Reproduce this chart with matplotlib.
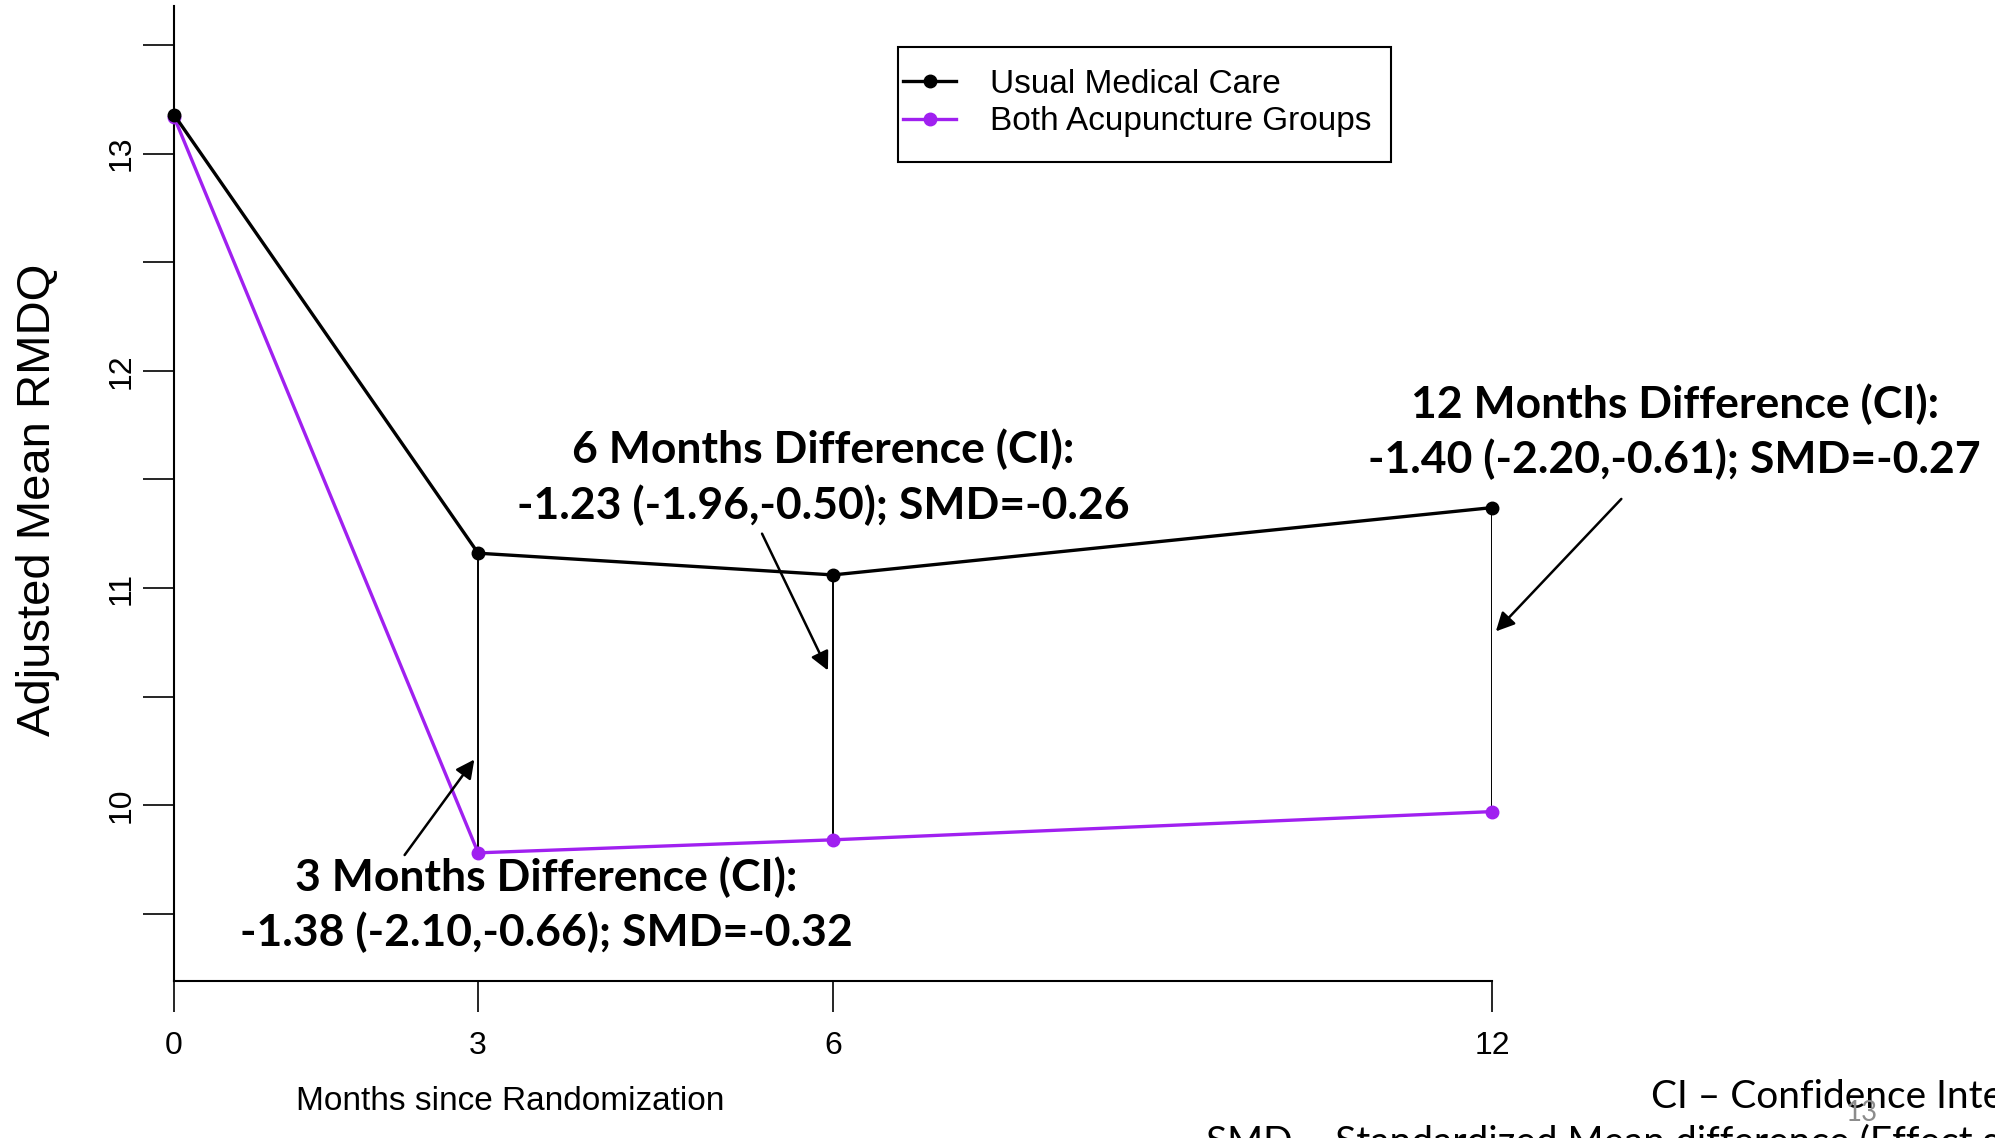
import numpy as np
import matplotlib
matplotlib.use('Agg')
import matplotlib.pyplot as plt
from matplotlib.patches import Rectangle

# Dados (tempo em semanas; rótulos em meses)
weeks = [0, 12, 26, 52]
month_labels = ['0', '3', '6', '12']
usual_care = [13.18, 11.16, 11.06, 11.37]
acupuncture = [13.17, 9.78, 9.84, 9.97]

diff_labels = ['3 Months Difference (CI):\n-1.38 (-2.10,-0.66); SMD=-0.32',
               '6 Months Difference (CI):\n-1.23 (-1.96,-0.50); SMD=-0.26',
               '12 Months Difference (CI):\n-1.40 (-2.20,-0.61); SMD=-0.27']
# posição do texto e das setas (semanas, RMDQ)
label_pos = [(14.7, 9.54), (25.6, 11.51), (59.2, 11.72)]
arrow_tail = [(9.1, 9.77), (23.2, 11.25), (57.1, 11.41)]
arrow_head = [(11.85, 10.21), (25.8, 10.62), (52.15, 10.80)]

sans = 'Liberation Sans'
purple = '#A020F0'

fig = plt.figure(figsize=(19.95, 11.38), dpi=100)
ax = fig.add_axes([0.0872, 0.138, 0.6607, 0.8567])

ax.plot(weeks, acupuncture, '-o', color=purple, lw=2.4, ms=9,
        label='Both Acupuncture Groups', clip_on=False, zorder=3)
ax.plot(weeks, usual_care, '-o', color='black', lw=2.4, ms=9,
        label='Usual Medical Care', clip_on=False, zorder=4)
ax.vlines(weeks[1:], acupuncture[1:], usual_care[1:], color='black', lw=1.4, zorder=2)

ax.set_xlim(0, 52)
ax.set_ylim(9.19, 13.68)
for s in ['top', 'right']:
    ax.spines[s].set_visible(False)
for s in ['left', 'bottom']:
    ax.spines[s].set_linewidth(1.5)

yt = np.arange(9.5, 13.51, 0.5)
ax.set_yticks(yt, ['' if v % 1 else str(int(v)) for v in yt])
ax.set_xticks(weeks, month_labels)
ax.tick_params(axis='y', length=22, width=1.2, pad=5, labelsize=23, labelrotation=90)
ax.tick_params(axis='x', length=22, width=1.2, pad=14, labelsize=23)
for lab in ax.get_xticklabels() + ax.get_yticklabels():
    lab.set_family(sans)
for lab in ax.get_yticklabels():
    lab.set_va('center')

ax.set_ylabel('Adjusted Mean RMDQ', fontsize=34, family=sans, va='center')
ax.yaxis.set_label_coords(-0.103, 0.494)
ax.set_xlabel('Months since Randomization', fontsize=24, family=sans, va='center')
ax.xaxis.set_label_coords(0.255, -0.124)

# legenda com moldura própria
handles, labels = ax.get_legend_handles_labels()
leg = ax.legend(handles[::-1], labels[::-1], loc='center left',
                bbox_to_anchor=(903 / 1995, 1 - 103 / 1138), bbox_transform=fig.transFigure,
                prop={'family': sans, 'size': 24}, frameon=False, borderpad=0,
                handlelength=1.6, handletextpad=1.0, labelspacing=0.2, borderaxespad=0)
fig.patches.append(Rectangle((898 / 1995, 1 - 162 / 1138), 493 / 1995, 115 / 1138,
                             transform=fig.transFigure, fill=False,
                             edgecolor='black', lw=1.5))

for txt, pos in zip(diff_labels, label_pos):
    ax.text(pos[0], pos[1], txt, ha='center', va='center', fontsize=32,
            fontweight='bold', family='Lato', linespacing=1.4, clip_on=False)
for tail, head in zip(arrow_tail, arrow_head):
    ax.annotate('', xy=head, xytext=tail, annotation_clip=False,
                arrowprops=dict(arrowstyle='-|>', color='black', lw=1.8,
                                mutation_scale=28, shrinkA=0, shrinkB=0))

fig.text(1651 / 1995, 1 - 1097 / 1138, 'CI – Confidence Interval', ha='left',
         va='center', fontsize=28, family='Lato')
fig.text(1206 / 1995, 1 - 1124 / 1138, 'SMD – Standardized Mean difference (Effect size)',
         ha='left', va='top', fontsize=28, family='Lato')
fig.text(1862 / 1995, 1 - 1113 / 1138, '13', ha='center', va='center',
         fontsize=20, family='Lato', color='#8c8c8c')

fig.savefig('out.png', dpi=100)
